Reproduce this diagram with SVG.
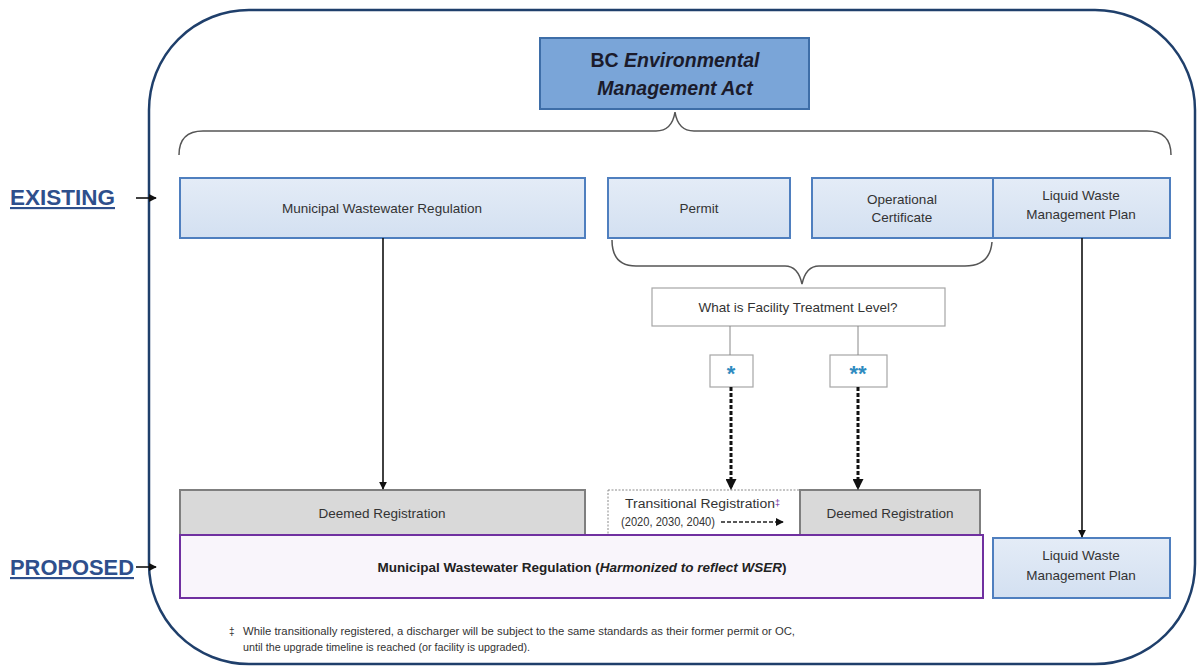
<svg xmlns="http://www.w3.org/2000/svg" width="1197" height="668" viewBox="0 0 1197 668">
<defs>
<marker id="ah" viewBox="0 0 10 10" refX="9" refY="5" markerWidth="8" markerHeight="8" orient="auto" markerUnits="userSpaceOnUse"><path d="M0,0 L10,5 L0,10 z" fill="#111"/></marker>
<marker id="ahs" viewBox="0 0 10 10" refX="9" refY="5" markerWidth="11" markerHeight="11" orient="auto" markerUnits="userSpaceOnUse"><path d="M0,0 L10,5 L0,10 z" fill="#111"/></marker>
<linearGradient id="blue" x1="0" y1="0" x2="0" y2="1"><stop offset="0" stop-color="#e4ecf7"/><stop offset="1" stop-color="#d3e0f1"/></linearGradient>
</defs>
<style>
.box{fill:url(#blue);stroke:#4f7fbf;stroke-width:2}
.gray{fill:#d9d9d9;stroke:#7f7f7f;stroke-width:2}
.t{font-family:"Liberation Sans",Arial,sans-serif;font-size:13.5px;fill:#333;text-anchor:middle}
.ts{font-family:"Liberation Sans",Arial,sans-serif;font-size:12.5px;fill:#333}
.lbl{font-family:"Liberation Sans",Arial,sans-serif;font-weight:bold;fill:#2e4f8c;text-decoration:underline}
.ln{fill:none;stroke:#111;stroke-width:1.6}
.dash{fill:none;stroke:#111;stroke-width:3;stroke-dasharray:4 2}
.brace{fill:none;stroke:#555;stroke-width:1.5}
.star{font-family:"Liberation Sans",Arial,sans-serif;font-size:22px;font-weight:bold;fill:#2e8bc0;text-anchor:middle}
.foot{font-family:"Liberation Sans",Arial,sans-serif;font-size:10px;fill:#333}
</style>
<rect x="149" y="10" width="1046" height="654" rx="100" ry="100" fill="#fff" stroke="#1f3f6b" stroke-width="2.5"/>
<g id="ema">
<rect x="540" y="38" width="269" height="71" fill="#7aa5d8" stroke="#3e6ea8" stroke-width="2"/>
<text x="675" y="67" font-family="Liberation Sans,Arial,sans-serif" font-size="19.5" font-weight="bold" fill="#1b1b2b" text-anchor="middle">BC <tspan font-style="italic">Environmental</tspan></text>
<text x="675" y="95" font-family="Liberation Sans,Arial,sans-serif" font-size="19.5" font-weight="bold" font-style="italic" fill="#1b1b2b" text-anchor="middle">Management Act</text>
</g>
<g id="braces">
<path class="brace" d="M179,155 Q179,131 203,131 L656,131 Q672,131 675,112 Q678,131 694,131 L1147,131 Q1171,131 1171,155"/>
<path class="brace" d="M612,240 Q612,266 636,266 L785,266 Q798,266 802,284 Q806,266 819,266 L965,266 Q990,266 992,242"/>
</g>
<g id="existing-label">
<text class="lbl" x="10" y="205" font-size="21.5" textLength="105" lengthAdjust="spacingAndGlyphs">EXISTING</text>
</g>
<g id="proposed-label">
<text class="lbl" x="10" y="575" font-size="21.5" textLength="124" lengthAdjust="spacingAndGlyphs">PROPOSED</text>
</g>
<g id="mwr">
<rect class="box" x="180" y="178" width="405" height="60"/>
<text class="t" x="382" y="213">Municipal Wastewater Regulation</text>
</g>
<g id="permit">
<rect class="box" x="608" y="178" width="182" height="60"/>
<text class="t" x="699" y="213">Permit</text>
</g>
<g id="oc">
<rect class="box" x="812" y="178" width="181" height="60"/>
<text class="t" x="902" y="204">Operational</text>
<text class="t" x="902" y="222">Certificate</text>
</g>
<g id="lwmp">
<rect class="box" x="993" y="178" width="177" height="60"/>
<text class="t" x="1081" y="200">Liquid Waste</text>
<text class="t" x="1081" y="219">Management Plan</text>
</g>
<g id="question">
<rect x="652" y="288" width="293" height="38" fill="#fff" stroke="#a6a6a6" stroke-width="1.2"/>
<text class="t" x="798" y="312" font-size="12.5">What is Facility Treatment Level?</text>
</g>
<g id="star1">
<rect x="710" y="355" width="43" height="32" fill="#fff" stroke="#a6a6a6" stroke-width="1.2"/>
<text class="star" x="731" y="381">*</text>
</g>
<g id="star2">
<rect x="830" y="355" width="57" height="32" fill="#fff" stroke="#a6a6a6" stroke-width="1.2"/>
<text class="star" x="858" y="381">**</text>
</g>
<g id="deemed-left">
<rect class="gray" x="180" y="490" width="405" height="45"/>
<text class="t" x="382" y="518">Deemed Registration</text>
</g>
<g id="transitional">
<rect x="608" y="490" width="192" height="45" fill="#fff" stroke="#8a8a8a" stroke-width="1" stroke-dasharray="2 1.5"/>
<text class="ts" x="625" y="508"><tspan textLength="150" lengthAdjust="spacingAndGlyphs">Transitional Registration</tspan><tspan font-size="9" fill="#7030a0" dy="-2">‡</tspan></text>
<text class="ts" x="621" y="526" font-size="12.5" textLength="94" lengthAdjust="spacingAndGlyphs">(2020, 2030, 2040)</text>
</g>
<g id="deemed-right">
<rect class="gray" x="800" y="490" width="180" height="45"/>
<text class="t" x="890" y="518">Deemed Registration</text>
</g>
<g id="mwr-proposed">
<rect x="180" y="535" width="803" height="63" fill="#f9f5fb" stroke="#7030a0" stroke-width="2"/>
<text x="582" y="572" font-family="Liberation Sans,Arial,sans-serif" font-size="13.5" font-weight="bold" fill="#222" text-anchor="middle">Municipal Wastewater Regulation (<tspan font-style="italic">Harmonized to reflect WSER</tspan>)</text>
</g>
<g id="lwmp-proposed">
<rect class="box" x="993" y="538" width="177" height="60"/>
<text class="t" x="1081" y="560">Liquid Waste</text>
<text class="t" x="1081" y="580">Management Plan</text>
</g>
<g id="connectors">
<line class="ln" x1="136" y1="198" x2="156" y2="198" marker-end="url(#ah)"/>
<line class="ln" x1="136" y1="567" x2="156" y2="567" marker-end="url(#ah)"/>
<line class="ln" x1="383" y1="238" x2="383" y2="489" marker-end="url(#ah)"/>
<line class="ln" x1="1082" y1="238" x2="1082" y2="537" marker-end="url(#ah)"/>
<line x1="730" y1="326" x2="730" y2="355" stroke="#888" stroke-width="1"/>
<line x1="858" y1="326" x2="858" y2="355" stroke="#888" stroke-width="1"/>
<line class="dash" x1="731" y1="387" x2="731" y2="489" marker-end="url(#ahs)"/>
<line class="dash" x1="858" y1="387" x2="858" y2="489" marker-end="url(#ahs)"/>
<line x1="721" y1="522" x2="783" y2="522" stroke="#222" stroke-width="1.6" stroke-dasharray="4 2" marker-end="url(#ah)"/>
</g>
<g id="footnote">
<text class="foot" x="229" y="635" fill="#7030a0">‡</text>
<text class="foot" x="243" y="635" textLength="552" lengthAdjust="spacingAndGlyphs">While transitionally registered, a discharger will be subject to the same standards as their former permit or OC,</text>
<text class="foot" x="243" y="651" textLength="287" lengthAdjust="spacingAndGlyphs">until the upgrade timeline is reached (or facility is upgraded).</text>
</g>
</svg>
